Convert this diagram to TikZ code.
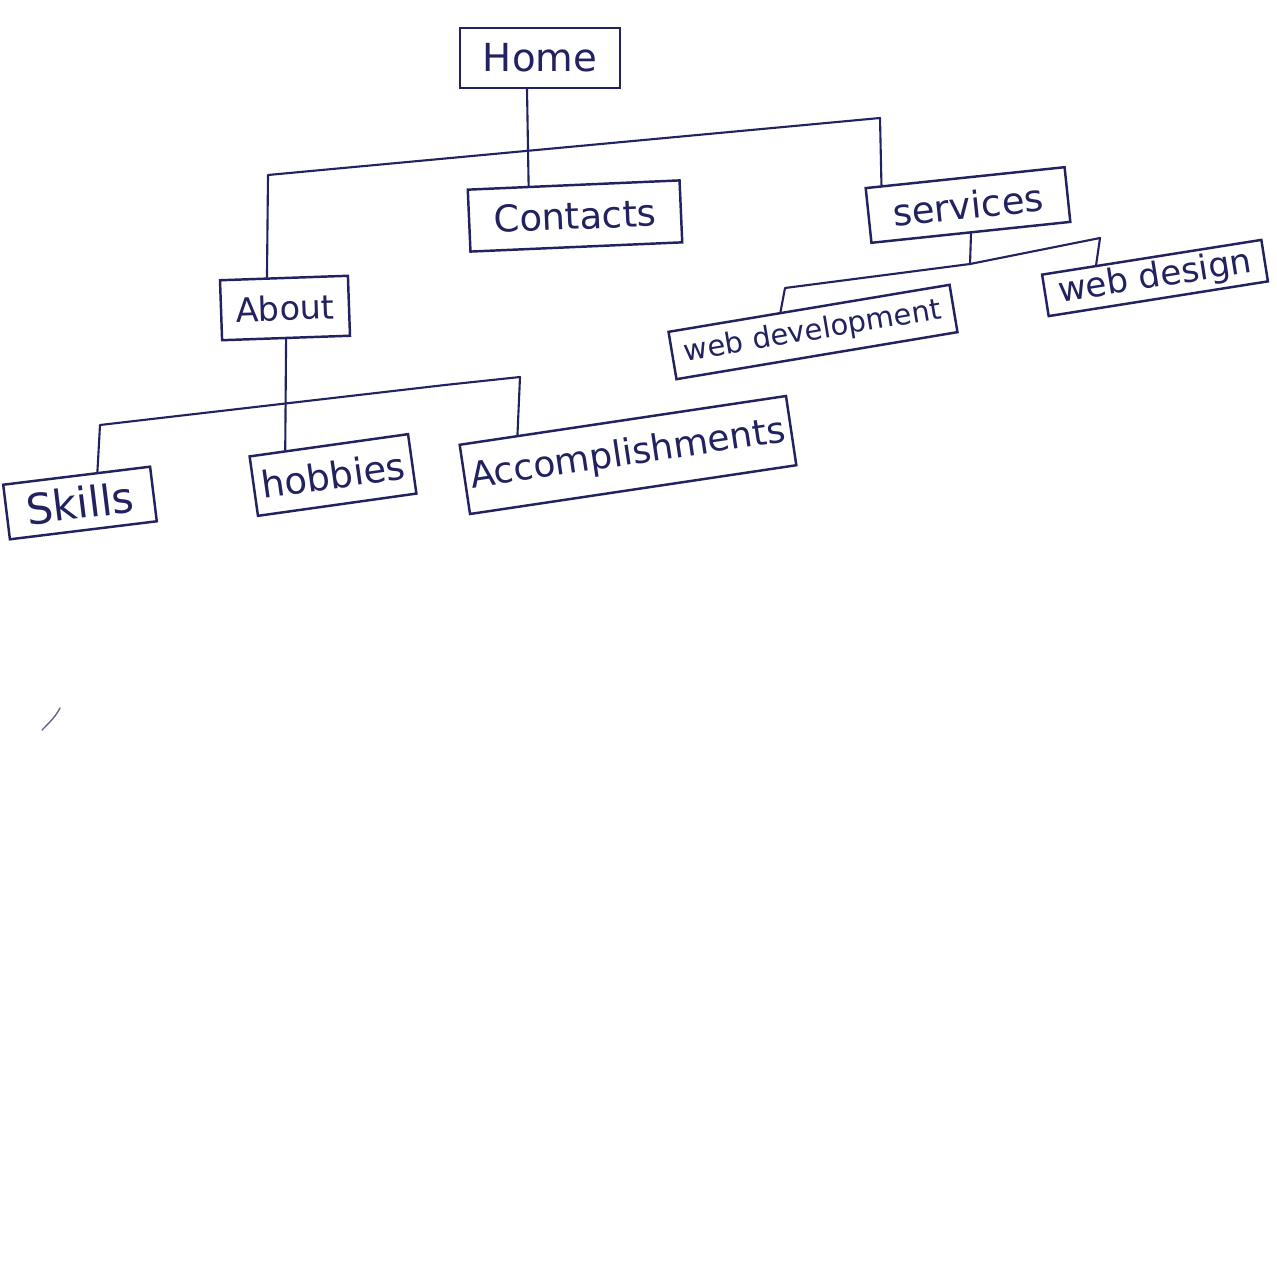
\documentclass[tikz,border=0pt]{standalone}
\usepackage{fontspec}
\setmainfont{DejaVu Sans}
\usetikzlibrary{calc}
\definecolor{ink}{RGB}{34,34,96}
\tikzset{
  pagebox/.style={draw=ink, line width=1.4pt, text=ink, inner sep=0pt, align=center,
    font=\fontsize{21}{25}\selectfont},
  wire/.style={draw=ink, line width=1.2pt, line cap=round, line join=round}
}
\begin{document}
\begin{tikzpicture}[x=0.02cm, y=-0.02cm]
\useasboundingbox[fill=white] (0,0) rectangle (1276,1280);
% nodes
\node[pagebox, minimum width=3.2cm, minimum height=1.2cm, font=\fontsize{22}{26}\selectfont] (home) at (540,58) {Home};
\node[pagebox, minimum width=4.24cm, minimum height=1.24cm, rotate=2.5] (contacts) at (575,216) {Contacts};
\node[pagebox, minimum width=4.0cm, minimum height=1.1cm, rotate=6] (services) at (968,205) {services};
\node[pagebox, minimum width=2.56cm, minimum height=1.2cm, rotate=2, font=\fontsize{19}{23}\selectfont] (about) at (285,308) {About};
\node[pagebox, minimum width=5.7cm, minimum height=0.96cm, rotate=9.5, font=\fontsize{16.5}{20}\selectfont] (webdev) at (813,332) {web development};
\node[pagebox, minimum width=4.44cm, minimum height=0.84cm, rotate=9, font=\fontsize{19.5}{23}\selectfont] (webdes) at (1155,278) {web design};
\node[pagebox, minimum width=2.96cm, minimum height=1.1cm, rotate=7, font=\fontsize{24}{28}\selectfont] (skills) at (80,503) {Skills};
\node[pagebox, minimum width=3.2cm, minimum height=1.2cm, rotate=8] (hobbies) at (333,475) {hobbies};
\node[pagebox, minimum width=6.6cm, minimum height=1.4cm, rotate=8.5, font=\fontsize{20.5}{24}\selectfont] (accomp) at (628,455) {Accomplishments};
% bus points
\coordinate (b1) at (268,175);
\coordinate (b2) at (880,118);
\coordinate (s0) at (785,288);
\coordinate (s1) at (970,264);
\coordinate (s2) at (1100,238);
\coordinate (a0) at (100,425);
\coordinate (a1) at (445,385);
\coordinate (a2) at (520,377);
% Home level
\draw[wire] ($(home.south west)!0.42!(home.south east)$) -- ($(contacts.north west)!0.29!(contacts.north east)$);
\draw[wire] ($(about.north west)!0.37!(about.north east)$) -- (b1) -- (b2) -- ($(services.north west)!0.085!(services.north east)$);
% services level
\draw[wire] (services.south) -- (s1);
\draw[wire] ($(webdev.north west)!0.4!(webdev.north east)$) -- (s0) -- (s1) -- (s2) -- ($(webdes.north west)!0.25!(webdes.north east)$);
% about level
\draw[wire] (about.south) -- ($(hobbies.north west)!0.23!(hobbies.north east)$);
\draw[wire] ($(skills.north west)!0.64!(skills.north east)$) -- (a0) -- (a1) -- (a2) -- ($(accomp.north west)!0.18!(accomp.north east)$);
% stray pen mark
\draw[ink!70, line width=0.8pt, line cap=round] (42,730) .. controls (50,722) and (56,716) .. (60,708);
\end{tikzpicture}
\end{document}
